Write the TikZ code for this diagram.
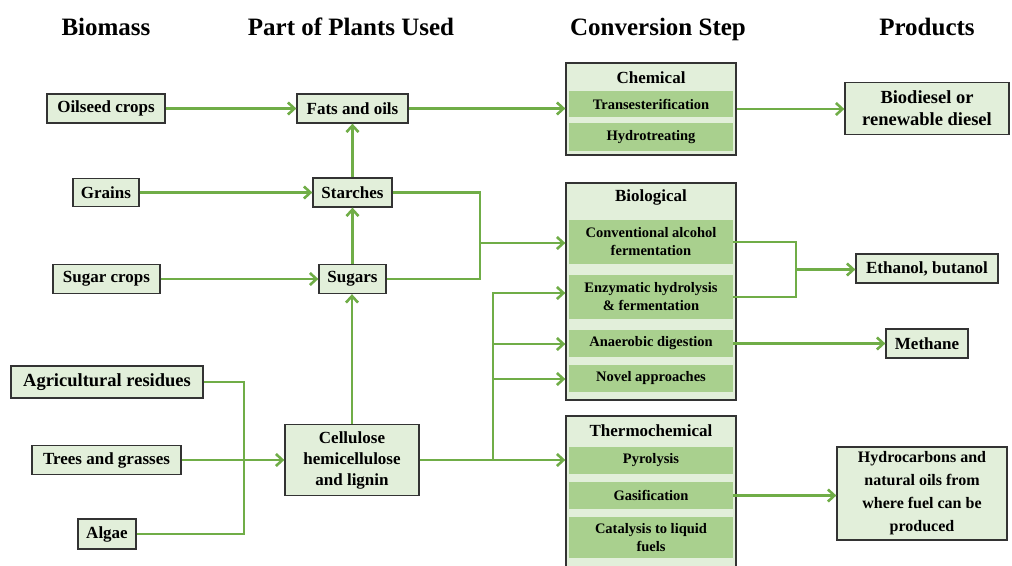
\documentclass[tikz,border=0pt]{standalone}
\usepackage{fontspec}
\setmainfont{Liberation Serif}
\usetikzlibrary{arrows.meta,calc}
\definecolor{lg}{HTML}{70AD47}
\definecolor{bf}{HTML}{E2EFDA}
\definecolor{bandc}{HTML}{A9D08E}
\definecolor{bd}{HTML}{333333}
\tikzset{
  box/.style={draw=bd, line width=1.3pt, fill=bf, inner sep=0pt, align=center,
    font=\bfseries\fontsize{17}{21}\selectfont},
  grp/.style={draw=bd, line width=1.3pt, fill=bf, inner sep=0pt, minimum width=170pt},
  bandbox/.style={fill=bandc, inner sep=0pt, minimum width=164pt, align=center,
    font=\bfseries\fontsize{14.5}{18}\selectfont},
  ttl/.style={font=\bfseries\fontsize{17}{21}\selectfont, inner sep=0pt},
  hdr/.style={font=\bfseries\fontsize{25}{30}\selectfont, inner sep=0pt, anchor=base},
  arr/.style={draw=lg, line width=2.6pt, -{Straight Barb[length=6.5pt,width=12pt]}},
  ln/.style={draw=lg, line width=2.6pt},
}
\begin{document}
\begin{tikzpicture}[x=1pt,y=-1pt]
\useasboundingbox (0,0) rectangle (1012,565);
\clip (0,0) rectangle (1012,565);
% headers
\node[hdr] (hBio) at (106,35.5) {Biomass};
\node[hdr] (hPart) at (351,35.5) {Part of Plants Used};
\node[hdr] (hConv) at (658,35.5) {Conversion Step};
\node[hdr] (hProd) at (927,35.5) {Products};
% biomass
\node[box, minimum width=118pt, minimum height=29pt] (oil) at (106,108.5) {Oilseed crops};
\node[box, minimum width=66pt, minimum height=28pt] (grains) at (106,192.5) {Grains};
\node[box, minimum width=107pt, minimum height=29pt] (sugarc) at (106.5,279) {Sugar crops};
\node[box, minimum width=192pt, minimum height=32pt, font=\bfseries\fontsize{18.5}{22}\selectfont] (agri) at (107,382) {Agricultural residues};
\node[box, minimum width=149pt, minimum height=29pt] (trees) at (106.5,460) {Trees and grasses};
\node[box, minimum width=58pt, minimum height=30pt] (algae) at (107,534) {Algae};
% parts
\node[box, minimum width=111pt, minimum height=29pt] (fats) at (352.5,108.5) {Fats and oils};
\node[box, minimum width=79pt, minimum height=29pt] (starch) at (352.5,192.5) {Starches};
\node[box, minimum width=67pt, minimum height=29pt] (sugars) at (352.5,279) {Sugars};
\node[box, minimum width=134pt, minimum height=71pt] (cell) at (352,460) {Cellulose\\hemicellulose\\and lignin};
% conversion groups
\node[grp, minimum height=92pt] (chem) at (651,109) {};
\node[ttl] (tchem) at (651,78) {Chemical};
\node[bandbox, minimum height=26pt] (trans) at (651,104) {Transesterification};
\node[bandbox, minimum height=28pt] (hydro) at (651,137) {Hydrotreating};

\node[grp, minimum height=217pt] (bio) at (651,291.5) {};
\node[ttl] (tbio) at (651,197) {Biological};
\node[bandbox, minimum height=44pt] (conv) at (651,242) {Conventional alcohol\\fermentation};
\node[bandbox, minimum height=44pt] (enz) at (651,297) {Enzymatic hydrolysis\\\& fermentation};
\node[bandbox, minimum height=27pt] (ana) at (651,343.5) {Anaerobic digestion};
\node[bandbox, minimum height=27pt] (nov) at (651,378.5) {Novel approaches};

\node[grp, minimum height=154pt] (thermo) at (651,493) {};
\node[ttl] (tthermo) at (651,431) {Thermochemical};
\node[bandbox, minimum height=27pt] (pyro) at (651,460) {Pyrolysis};
\node[bandbox, minimum height=27pt] (gas) at (651,495.5) {Gasification};
\node[bandbox, minimum height=41pt] (cat) at (651,537.5) {Catalysis to liquid\\fuels};
% products
\node[box, minimum width=164pt, minimum height=52pt, font=\bfseries\fontsize{18.5}{22}\selectfont] (biod) at (927,108.5) {Biodiesel or\\renewable diesel};
\node[box, minimum width=142pt, minimum height=29pt] (eth) at (927,268.5) {Ethanol, butanol};
\node[box, minimum width=82pt, minimum height=29pt] (meth) at (927,343.5) {Methane};
\node[box, minimum width=170pt, minimum height=93pt, font=\bfseries\fontsize{16}{23}\selectfont] (hyd) at (922,493.5) {Hydrocarbons and\\natural oils from\\where fuel can be\\produced};
% connectors: biomass -> parts
\draw[arr] (oil.east) -- (oil.east -| fats.west);
\draw[arr] (grains.east) -- (grains.east -| starch.west);
\draw[arr] (sugarc.east) -- (sugarc.east -| sugars.west);
\coordinate (ja) at (244,460);
\draw[ln] (agri.east) -| (ja) |- (algae.east);
\draw[arr] (trees.east) -- (trees.east -| cell.west);
% vertical
\draw[arr] (sugars.north) -- (starch.south);
\draw[arr] (starch.north) -- (fats.south);
\draw[arr] (cell.north) -- (cell.north |- sugars.south);
% parts -> conversion
\draw[arr] (fats.east) -- (fats.east -| chem.west);
\coordinate (js) at (480,243);
\draw[ln] (starch.east) -| (js) |- (sugars.east);
\draw[arr] (js) -- (js -| bio.west);
\coordinate (jc) at (493,460);
\coordinate (b1) at (493,293);
\coordinate (b2) at (493,344);
\coordinate (b3) at (493,379);
\draw[arr] (cell.east) -- (cell.east -| thermo.west);
\draw[arr] (jc) -- (b1) -- (b1 -| bio.west);
\draw[arr] (b2) -- (b2 -| bio.west);
\draw[arr] (b3) -- (b3 -| bio.west);
% conversion -> products
\draw[arr] (chem.east) -- (chem.east -| biod.west);
\coordinate (je) at (796,269.5);
\draw[ln] (conv.east) -| (je) |- (enz.east);
\draw[arr] (je) -- (je -| eth.west);
\draw[arr] (ana.east) -- (ana.east -| meth.west);
\draw[arr] (gas.east) -- (gas.east -| hyd.west);
\end{tikzpicture}
\end{document}
